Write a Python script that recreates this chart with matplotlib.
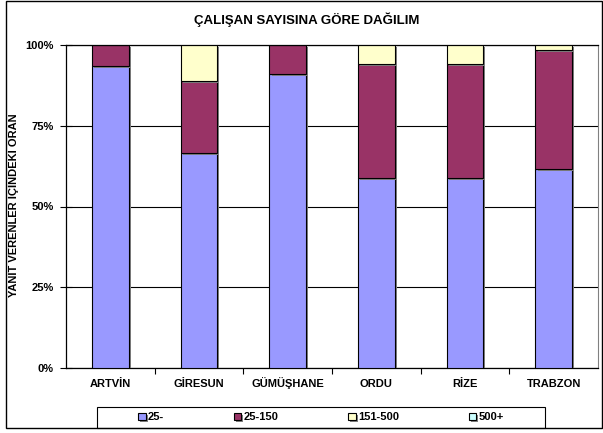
import numpy as np
import matplotlib.pyplot as plt
import matplotlib.patheffects as pe
from matplotlib.patches import Rectangle
from matplotlib.ticker import PercentFormatter

plt.rcParams['font.family'] = ['Liberation Sans', 'DejaVu Sans']
plt.rcParams['font.weight'] = 'bold'

# share of respondents per size class
cities = ['ARTVİN', 'GİRESUN', 'GÜMÜŞHANE', 'ORDU', 'RİZE', 'TRABZON']
size_classes = ['25-', '25-150', '151-500', '500+']
share_25 = [93.5, 66.6, 90.9, 58.8, 58.8, 61.6]
share_25_150 = [6.5, 22.4, 9.1, 35.3, 35.3, 36.8]
share_151_500 = [0.0, 11.0, 0.0, 5.9, 5.9, 1.6]
share_500 = [0.0, 0.0, 0.0, 0.0, 0.0, 0.0]
colors = ['#9999FF', '#993366', '#FFFFCC', '#CCFFFF']

fig = plt.figure(figsize=(6.03, 4.33), dpi=100)
ax = fig.add_axes([66 / 603, 1 - 368 / 433, 532 / 603, 323 / 433])

x = np.arange(len(cities))
bottom = np.zeros(len(cities))
shadow = [pe.SimplePatchShadow(offset=(1.5, -1.5), shadow_rgbFace='#808080', alpha=1), pe.Normal()]
handles = []
for vals, col, lab in zip([share_25, share_25_150, share_151_500, share_500], colors, size_classes):
    vals = np.array(vals)
    bars = ax.bar(x, vals, 0.41, bottom=bottom, color=col, edgecolor='black', linewidth=0.8,
                  label=lab, zorder=3)
    for b in bars:
        b.set_path_effects(shadow)
    handles.append(bars)
    bottom += vals

ax.set_xlim(-0.5, 5.5)
ax.set_ylim(0, 100)
ax.set_yticks([0, 25, 50, 75, 100])
ax.yaxis.set_major_formatter(PercentFormatter(decimals=0))
ax.set_xticks(x)
ax.set_xticklabels(cities, va='baseline')
ax.set_xticks(np.arange(0.5, 5, 1), minor=True)
ax.tick_params(axis='x', which='major', length=0, pad=14, labelsize=8)
ax.tick_params(axis='x', which='minor', length=4, direction='out', width=0.8)
ax.tick_params(axis='y', which='major', length=8, direction='inout', width=0.8, labelsize=8, pad=5)
ax.grid(axis='y', color='black', linewidth=0.8, zorder=1)
ax.set_axisbelow(True)
for s in ['left', 'bottom', 'top']:
    ax.spines[s].set_color('black')
    ax.spines[s].set_linewidth(0.9)
ax.spines['right'].set_color('#808080')

ax.set_ylabel('YANIT VERENLER İÇİNDEKİ ORAN', fontsize=8, fontweight='bold')
ax.yaxis.set_label_coords((19 - 66) / 532, (368 - 205) / 323)
fig.text(307 / 603, 1 - 20 / 433, 'ÇALIŞAN SAYISINA GÖRE DAĞILIM', ha='center', va='center',
         fontsize=9.5, fontweight='bold')

# figure frame and legend box
fig.patches.append(Rectangle((6 / 603, 1 - 428 / 433), 596 / 603, 427 / 433, transform=fig.transFigure,
                             fill=False, edgecolor='black', linewidth=1))
fig.patches.append(Rectangle((97 / 603, 1 - 428 / 433), 448 / 603, 21 / 433, transform=fig.transFigure,
                             fill=False, edgecolor='black', linewidth=0.8))
leg = fig.legend([h[0] for h in handles], size_classes, ncol=4, loc='center',
                 bbox_to_anchor=(321 / 603, 1 - 417.5 / 433), frameon=False, fontsize=8,
                 handlelength=0.65, handleheight=0.65, handletextpad=0.2, columnspacing=6.3)

fig.savefig('out.png', dpi=100)
